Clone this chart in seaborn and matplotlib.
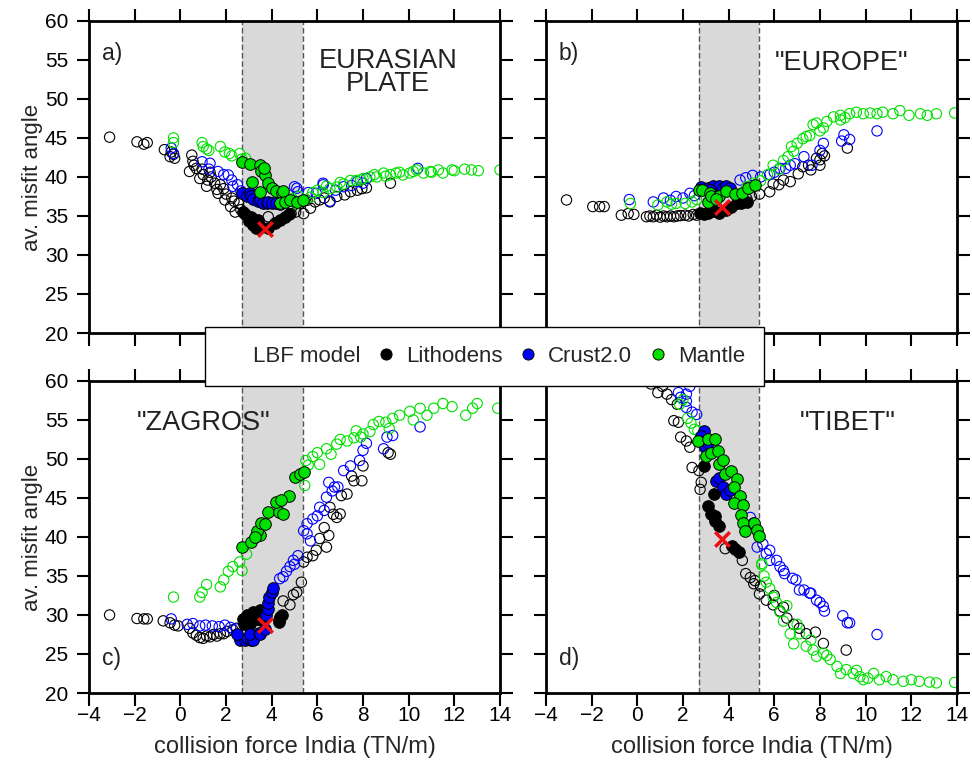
import numpy as np
import matplotlib
matplotlib.use("Agg")
import matplotlib.pyplot as plt
from matplotlib.lines import Line2D
import seaborn as sns

# ---- data: (collision force, misfit angle) ----
a_lith_open = [(-3.1, 45.1), (-1.9, 44.5), (-1.6, 44.2), (-1.45, 44.4), (-0.7, 43.5), (-0.4, 43.2),
               (-0.25, 42.4), (-0.45, 42.6), (-0.3, 42.9), (0.5, 42.8), (0.55, 42.0), (0.4, 40.7),
               (0.7, 41.1), (0.85, 39.8), (1.2, 39.6), (1.15, 38.8), (1.5, 39.2), (1.65, 37.9),
               (1.9, 38.5), (1.95, 37.05), (2.25, 37.3), (2.2, 36.2), (2.55, 36.6), (2.4, 35.5),
               (2.65, 35.8), (1.0, 40.3), (1.3, 40.6), (1.75, 39.0), (0.6, 41.5), (0.95, 41.0),
               (1.35, 40.0), (1.6, 38.4), (2.0, 37.8), (2.35, 36.9), (3.85, 34.9), (4.85, 35.3),
               (5.05, 35.5), (5.4, 35.3), (5.7, 36.0), (4.9, 36.2), (5.25, 36.6), (5.55, 37.0),
               (6.1, 37.05), (6.55, 36.8), (6.85, 37.5), (7.2, 37.7), (7.45, 38.1), (7.75, 38.3),
               (7.95, 38.5), (8.15, 38.6), (9.2, 39.2), (6.3, 37.3), (5.9, 36.8)]
a_lith_fill = [(2.85, 35.3), (2.75, 35.5), (3.1, 34.9), (3.0, 34.3), (3.2, 33.9), (3.4, 34.5),
               (3.55, 33.6), (3.3, 33.5), (4.15, 34.1), (4.35, 34.5), (4.6, 34.9), (4.75, 35.2),
               (3.85, 33.4)]
a_crust_open = [(-0.4, 43.7), (-0.3, 43.0), (0.95, 41.95), (1.3, 41.75), (1.25, 41.0), (1.65, 40.7),
                (2.1, 40.25), (2.25, 39.6), (2.3, 38.8), (2.65, 38.2), (1.9, 40.3), (2.5, 39.0),
                (5.0, 38.75), (5.15, 38.1), (5.1, 38.55), (6.25, 39.2), (6.55, 36.9), (5.95, 37.9),
                (7.15, 38.75), (7.75, 39.4), (8.15, 39.8), (10.4, 41.1), (5.6, 38.0), (6.8, 38.3),
                (7.5, 38.9), (8.0, 39.2), (6.26, 39.0)]
a_crust_fill = [(2.7, 37.9), (2.9, 37.6), (3.05, 37.9), (3.1, 37.5), (3.2, 37.2), (3.4, 36.9),
                (3.5, 37.0), (3.6, 36.7), (3.8, 36.7), (3.85, 36.85), (4.0, 36.6), (4.2, 36.6),
                (4.35, 36.5)]
a_mantle_open = [(-0.3, 45.0), (-0.3, 44.4), (0.95, 44.4), (1.0, 43.9), (1.15, 43.6), (1.25, 43.4),
                 (1.75, 43.9), (1.95, 43.2), (2.15, 43.0), (2.25, 42.7), (2.6, 43.0), (2.7, 42.3),
                 (2.85, 42.4), (4.9, 37.2), (5.2, 37.5), (5.1, 36.6), (5.4, 37.0), (5.7, 37.4),
                 (5.8, 38.0), (6.25, 38.0), (6.55, 38.5), (6.85, 38.7), (7.15, 39.1), (7.45, 39.55),
                 (7.7, 39.55), (8.0, 39.8), (8.3, 40.0), (8.6, 40.0), (8.9, 40.5), (9.2, 40.3),
                 (9.45, 40.5), (9.75, 40.25), (10.05, 40.5), (10.35, 40.9), (10.65, 40.5),
                 (10.95, 40.7), (11.3, 40.9), (11.5, 40.5), (12.0, 40.8), (12.45, 41.0),
                 (12.75, 40.9), (13.05, 40.8), (14.0, 40.9), (6.0, 38.3), (6.4, 38.8), (7.0, 39.3),
                 (7.9, 39.6), (8.5, 40.3), (9.0, 40.1), (9.6, 40.6), (10.2, 40.7), (11.0, 40.6),
                 (11.9, 40.9)]
a_mantle_fill = [(2.7, 41.9), (3.05, 41.6), (3.5, 41.5), (3.55, 40.7), (3.7, 40.3), (3.13, 39.4),
                 (3.85, 39.2), (3.5, 38.1), (4.0, 38.6), (4.2, 38.2), (4.45, 38.0), (4.5, 38.2),
                 (4.35, 36.6), (4.6, 36.8), (4.8, 37.1), (5.1, 36.8), (5.35, 37.1), (3.65, 41.1)]

b_lith_open = [(-3.1, 37.05), (-1.95, 36.2), (-1.65, 36.2), (-1.45, 36.2), (-0.7, 35.1), (-0.4, 35.3),
               (-0.15, 35.2), (0.4, 34.9), (0.55, 35.0), (0.7, 34.9), (0.85, 35.1), (1.0, 34.85),
               (1.15, 35.0), (1.3, 34.9), (1.45, 35.0), (1.6, 34.9), (1.75, 35.0), (1.9, 35.05),
               (2.1, 35.1), (2.25, 35.0), (2.45, 35.2), (2.6, 35.1), (5.35, 37.8), (5.8, 38.1),
               (6.2, 39.0), (6.7, 39.4), (7.05, 40.4), (7.5, 41.5), (7.6, 40.9), (8.0, 42.2),
               (8.1, 43.0), (9.2, 43.7), (6.4, 39.6), (5.95, 39.1), (5.0, 37.5), (4.8, 37.2),
               (7.25, 41.3), (7.85, 42.4), (8.2, 42.7), (8.0, 41.5)]
b_lith_fill = [(2.75, 35.35), (2.9, 35.3), (3.1, 35.4), (3.35, 35.6), (3.6, 35.4), (3.9, 35.8),
               (4.1, 36.1), (4.35, 36.6), (4.55, 36.7), (4.8, 36.8)]
b_crust_open = [(-0.35, 37.1), (0.7, 36.8), (1.15, 37.3), (1.7, 37.5), (2.0, 37.3), (2.3, 37.9),
                (4.5, 39.6), (4.75, 39.9), (5.05, 40.2), (5.4, 40.0), (5.8, 40.3), (6.25, 41.1),
                (6.5, 41.1), (6.7, 41.5), (6.9, 41.7), (7.3, 42.6), (7.65, 41.5), (8.0, 43.4),
                (8.15, 44.3), (8.95, 44.6), (9.05, 45.4), (9.3, 44.8), (10.5, 45.9), (1.45, 37.0),
                (2.5, 37.6), (6.0, 40.6)]
b_crust_fill = [(2.8, 38.75), (2.95, 38.4), (3.1, 38.6), (3.3, 38.8), (3.45, 38.5), (3.6, 38.9),
                (3.75, 38.6), (3.9, 38.9), (4.05, 38.6), (3.2, 38.3)]
b_mantle_open = [(-0.3, 36.6), (0.9, 36.4), (1.3, 36.8), (1.7, 36.6), (2.1, 36.6), (2.4, 36.8),
                 (1.5, 36.5), (2.6, 37.1), (4.8, 38.75), (5.1, 39.2), (5.4, 39.5), (5.7, 40.3),
                 (5.95, 41.5), (6.2, 41.0), (6.4, 42.1), (6.6, 42.6), (6.75, 43.9), (6.85, 43.3),
                 (7.0, 44.3), (7.25, 44.9), (7.4, 45.2), (7.55, 45.3), (7.7, 46.7), (7.85, 46.9),
                 (8.0, 45.9), (8.3, 47.1), (8.6, 47.7), (8.9, 47.3), (8.9, 47.9), (9.3, 48.1),
                 (9.6, 48.3), (9.9, 48.1), (10.2, 48.2), (10.5, 48.1), (10.75, 48.3), (11.2, 48.1),
                 (11.5, 48.5), (11.9, 47.9), (12.4, 48.1), (12.7, 47.9), (13.1, 48.1), (13.9, 48.2),
                 (8.15, 46.3), (9.1, 47.6)]
b_mantle_fill = [(2.7, 38.3), (2.85, 38.3), (3.1, 36.8), (3.2, 37.9), (3.25, 37.6), (3.6, 37.5),
                 (3.9, 38.2), (4.3, 37.8), (4.6, 38.0), (4.85, 38.6), (5.15, 39.0), (3.45, 37.2)]

c_lith_open = [(-3.1, 30.0), (-1.9, 29.55), (-1.6, 29.5), (-1.45, 29.5), (-0.75, 29.25), (-0.45, 29.0),
               (-0.25, 28.7), (-0.1, 28.6), (0.4, 28.3), (0.55, 27.7), (0.85, 27.1), (1.15, 27.3),
               (1.45, 27.5), (1.75, 27.6), (2.05, 27.9), (2.3, 28.1), (2.45, 28.3), (0.7, 27.4),
               (1.0, 27.0), (1.3, 27.2), (1.6, 27.3), (1.9, 27.6), (4.5, 31.8), (4.8, 31.3),
               (4.95, 32.6), (5.1, 32.9), (5.3, 34.2), (5.4, 36.8), (5.55, 37.4), (5.8, 37.6),
               (5.95, 38.3), (6.4, 38.7), (6.5, 40.2), (6.7, 42.9), (6.85, 42.5), (7.0, 42.95),
               (6.55, 43.8), (7.05, 45.3), (7.3, 45.5), (7.5, 47.8), (7.6, 47.2), (7.95, 47.2),
               (8.0, 49.1), (9.1, 50.8), (9.2, 50.6), (6.1, 39.8), (6.3, 41.2)]
c_lith_fill = [(2.8, 28.9), (2.9, 30.0), (3.05, 28.9), (3.1, 30.0), (3.2, 30.4), (3.35, 29.5),
               (3.4, 30.2), (3.5, 30.7), (3.55, 29.3), (2.75, 29.5), (4.3, 29.1), (4.35, 29.75),
               (4.45, 30.0), (4.3, 29.4)]
c_crust_open = [(-0.4, 29.5), (0.55, 28.9), (0.85, 28.6), (1.1, 28.7), (1.4, 28.6), (1.7, 28.5),
                (1.95, 28.7), (2.2, 28.4), (2.45, 28.2), (0.3, 28.8), (4.35, 34.65), (4.5, 34.9),
                (4.65, 35.6), (4.8, 36.2), (4.95, 37.0), (5.15, 37.6), (5.4, 40.8), (5.55, 40.4),
                (5.55, 41.7), (5.8, 42.3), (6.0, 42.7), (6.1, 43.8), (6.3, 43.4), (6.4, 45.1),
                (6.5, 47.0), (6.65, 45.9), (6.75, 46.4), (6.9, 46.4), (7.15, 48.5), (7.45, 49.1),
                (7.85, 49.8), (8.0, 51.1), (8.15, 52.0), (8.9, 51.3), (9.05, 52.8), (9.3, 53.0),
                (10.5, 54.1), (5.0, 36.5), (5.7, 39.5)]
c_crust_fill = [(2.6, 26.8), (2.85, 26.8), (2.9, 27.0), (3.1, 26.8), (3.2, 26.8), (3.05, 27.6),
                (3.45, 27.7), (3.5, 27.6), (3.7, 28.2), (3.75, 30.0), (3.85, 30.8), (3.85, 31.5),
                (3.9, 32.3), (4.0, 33.0), (4.05, 33.4), (2.5, 27.6)]
c_mantle_open = [(-0.3, 32.3), (0.85, 32.3), (0.95, 32.9), (1.15, 33.9), (1.75, 33.6), (1.9, 34.5),
                 (2.1, 35.6), (2.3, 36.2), (2.6, 36.8), (2.7, 35.7), (2.9, 37.8), (5.45, 46.6),
                 (5.5, 49.8), (5.8, 50.3), (6.1, 49.3), (6.4, 51.3), (6.85, 51.9), (7.3, 52.3),
                 (7.6, 52.7), (7.7, 53.6), (8.0, 53.2), (8.45, 54.4), (8.7, 54.8), (9.15, 53.9),
                 (9.3, 55.2), (9.6, 55.6), (10.05, 56.1), (10.2, 55.0), (10.5, 56.5), (10.8, 55.6),
                 (11.1, 56.5), (11.5, 57.1), (11.9, 56.7), (12.5, 55.6), (12.8, 56.5), (13.0, 57.1),
                 (13.9, 56.5), (6.0, 50.8), (6.6, 50.6), (7.0, 52.5), (7.9, 52.8), (8.3, 53.5),
                 (9.0, 54.7), (5.6, 49.2)]
c_mantle_fill = [(2.7, 38.7), (3.1, 39.4), (3.5, 40.3), (3.35, 40.7), (3.55, 41.8), (3.7, 41.6),
                 (3.85, 43.2), (4.3, 43.2), (4.2, 44.5), (4.5, 43.0), (4.75, 45.2), (4.4, 44.7),
                 (5.0, 47.65), (5.25, 48.1), (5.4, 48.3), (3.25, 40.0)]

d_lith_open = [(0.9, 58.5), (1.3, 58.3), (1.5, 57.6), (1.75, 57.0), (1.6, 54.9), (1.8, 54.7),
               (1.9, 52.8), (2.15, 52.3), (2.3, 51.5), (2.4, 48.9), (2.7, 48.5), (2.8, 47.0),
               (2.75, 46.1), (0.6, 59.6), (1.1, 59.3), (3.85, 38.5), (4.6, 37.0), (4.75, 35.3),
               (4.95, 34.8), (5.1, 34.0), (5.15, 34.4), (5.4, 33.7), (5.35, 32.7), (5.65, 31.9),
               (5.95, 31.3), (6.25, 30.5), (6.55, 29.6), (6.85, 28.8), (7.1, 28.3), (7.4, 27.6),
               (7.8, 27.8), (8.15, 26.35), (9.15, 25.5), (6.0, 32.5), (6.4, 31.0)]
d_lith_fill = [(2.9, 49.1), (3.35, 45.5), (3.1, 44.0), (3.25, 42.9), (3.4, 42.0), (3.4, 42.7),
               (3.6, 41.4), (4.15, 38.8), (4.3, 38.5), (4.45, 38.1)]
d_crust_open = [(1.8, 58.5), (2.15, 58.3), (1.9, 57.9), (2.15, 57.4), (2.15, 56.6), (2.4, 56.0),
                (2.6, 55.7), (2.3, 59.3), (4.95, 42.5), (5.1, 41.8), (5.25, 38.7), (5.5, 39.1),
                (5.65, 37.85), (5.8, 38.3), (5.8, 37.0), (6.1, 37.0), (6.25, 36.2), (6.4, 35.7),
                (6.45, 35.3), (6.8, 34.7), (6.95, 34.5), (7.1, 33.2), (7.3, 33.2), (7.55, 32.8),
                (7.6, 32.8), (7.85, 31.9), (8.0, 31.6), (8.15, 31.1), (8.2, 30.5), (9.0, 29.9),
                (9.2, 29.0), (9.3, 29.0), (10.5, 27.5)]
d_crust_fill = [(2.9, 53.6), (2.95, 51.5), (3.1, 52.1), (3.45, 47.2), (3.6, 47.6), (3.75, 46.4),
                (3.9, 45.5), (4.05, 46.0), (2.8, 53.0)]
d_mantle_open = [(1.85, 57.0), (2.0, 57.6), (2.2, 55.2), (2.5, 53.8), (2.65, 53.6), (2.35, 54.6),
                 (5.45, 36.6), (5.45, 36.4), (5.55, 35.0), (5.65, 34.2), (5.8, 33.4), (5.95, 32.3),
                 (6.1, 31.6), (6.25, 30.4), (6.55, 31.2), (6.7, 27.6), (6.85, 26.3), (7.1, 27.6),
                 (7.4, 26.0), (7.7, 25.5), (7.85, 24.7), (8.15, 25.1), (8.45, 24.3), (8.75, 23.4),
                 (8.9, 22.5), (9.15, 23.0), (9.45, 22.5), (9.75, 22.1), (9.9, 21.7), (10.35, 22.5),
                 (10.6, 21.7), (10.9, 22.1), (11.2, 21.7), (11.65, 21.5), (12.0, 21.7), (12.35, 21.5),
                 (12.8, 21.4), (13.1, 21.3), (13.9, 21.35), (6.4, 29.2), (7.0, 28.8), (7.6, 26.8),
                 (8.3, 24.8), (9.6, 22.9), (10.1, 21.9)]
d_mantle_fill = [(2.65, 52.3), (3.1, 52.5), (3.4, 52.5), (3.0, 50.4), (3.25, 50.8), (3.55, 51.0),
                 (3.6, 49.35), (3.85, 48.1), (4.1, 48.5), (4.35, 47.4), (4.25, 46.4), (4.5, 45.3),
                 (4.25, 44.3), (4.65, 44.1), (4.55, 42.8), (4.65, 41.8), (4.7, 40.7), (5.1, 41.8),
                 (5.25, 40.9), (5.35, 40.1), (3.75, 49.9)]

best_x = [3.7, 3.7, 3.7, 3.7]
best_y = [33.3, 36.2, 28.7, 39.8]
panel_tags = ["a)", "b)", "c)", "d)"]
region_names = ["EURASIAN\nPLATE", '"EUROPE"', '"ZAGROS"', '"TIBET"']
model_names = ["Lithodens", "Crust2.0", "Mantle"]
model_colors = ["black", "#0000ff", "#00e000"]
band = (2.7, 5.35)

sns.set_theme(style="ticks")
plt.rcParams["font.family"] = ["Liberation Sans", "DejaVu Sans"]
plt.rcParams["axes.linewidth"] = 2.0

fig = plt.figure(figsize=(9.72, 7.65), dpi=100)
boxes = [(0.0916, 0.5647), (0.5617, 0.5647), (0.0916, 0.0941), (0.5617, 0.0941)]
axes = [fig.add_axes([l, b, 0.4228, 0.4080]) for l, b in boxes]

panel_data = [
    (a_lith_open, a_lith_fill, a_crust_open, a_crust_fill, a_mantle_open, a_mantle_fill),
    (b_lith_open, b_lith_fill, b_crust_open, b_crust_fill, b_mantle_open, b_mantle_fill),
    (c_lith_open, c_lith_fill, c_crust_open, c_crust_fill, c_mantle_open, c_mantle_fill),
    (d_lith_open, d_lith_fill, d_crust_open, d_crust_fill, d_mantle_open, d_mantle_fill),
]
title_pos = [(9.1, 53.4), (8.95, 54.6), (1.0, 54.6), (9.2, 54.6)]
tag_y = [55.8, 55.8, 24.4, 24.4]


def xy(points):
    arr = np.array(points)
    return arr[:, 0], arr[:, 1]


for i, ax in enumerate(axes):
    ax.axvspan(band[0], band[1], color="#d9d9d9", zorder=0, lw=0)
    for xb in band:
        ax.axvline(xb, color="#555555", lw=1, ls=(0, (4, 2)), zorder=1)

    sets = panel_data[i]
    # open circles first, then the selected (filled) models on top
    for k in range(3):
        x, y = xy(sets[2 * k])
        sns.scatterplot(x=x, y=y, ax=ax, s=55, color=model_colors[k], facecolor="none",
                        edgecolor=model_colors[k], linewidth=0.8, zorder=2, legend=False)
    for k in range(3):
        x, y = xy(sets[2 * k + 1])
        sns.scatterplot(x=x, y=y, ax=ax, s=70, color=model_colors[k], edgecolor="black",
                        linewidth=0.7, zorder=3, legend=False)
    sns.scatterplot(x=[best_x[i]], y=[best_y[i]], ax=ax, marker="x", s=110, color="#ee1111",
                    linewidth=2.5, zorder=4, legend=False)

    ax.set_xlim(-4, 14)
    ax.set_ylim(20, 60)
    ax.set_xticks(np.arange(-4, 15, 2))
    ax.set_yticks(np.arange(20, 61, 5))
    ax.tick_params(direction="out", length=9, width=1.5, top=True, right=True,
                   labelsize=15, colors="black")
    ax.tick_params(axis="x", pad=0.5)
    ax.tick_params(axis="y", pad=6)
    for sp in ax.spines.values():
        sp.set_visible(True)
        sp.set_color("black")
        sp.set_linewidth(2.0)
    if i in (1, 3):
        ax.tick_params(labelleft=False)
    else:
        ax.set_ylabel("av. misfit angle", fontsize=16, labelpad=1.5)
    if i in (0, 1):
        ax.tick_params(labelbottom=False)
    else:
        ax.set_xlabel("collision force India (TN/m)", fontsize=17, labelpad=8)

    ax.text(-3.45, tag_y[i], panel_tags[i], fontsize=16.5, va="center", ha="left", color="#222222")
    tx, ty = title_pos[i]
    ax.text(tx, ty, region_names[i], fontsize=19.5, ha="center", va="center",
            linespacing=0.88, color="#222222")

handles = [Line2D([], [], linestyle="none")]
for c in model_colors:
    handles.append(Line2D([], [], marker="o", linestyle="none", markersize=8,
                          markerfacecolor=c, markeredgecolor="black", markeredgewidth=0.7))
leg = fig.legend(handles, ["LBF model"] + model_names, ncol=4, loc="center",
                 bbox_to_anchor=(0.4985, 0.534), fontsize=16, frameon=True, fancybox=False,
                 edgecolor="black", framealpha=1, handlelength=0.8, handletextpad=0.5,
                 columnspacing=0.75, borderpad=0.85)
leg.get_frame().set_linewidth(1.0)
leg.set_zorder(10)

fig.savefig("out.png", dpi=100)
